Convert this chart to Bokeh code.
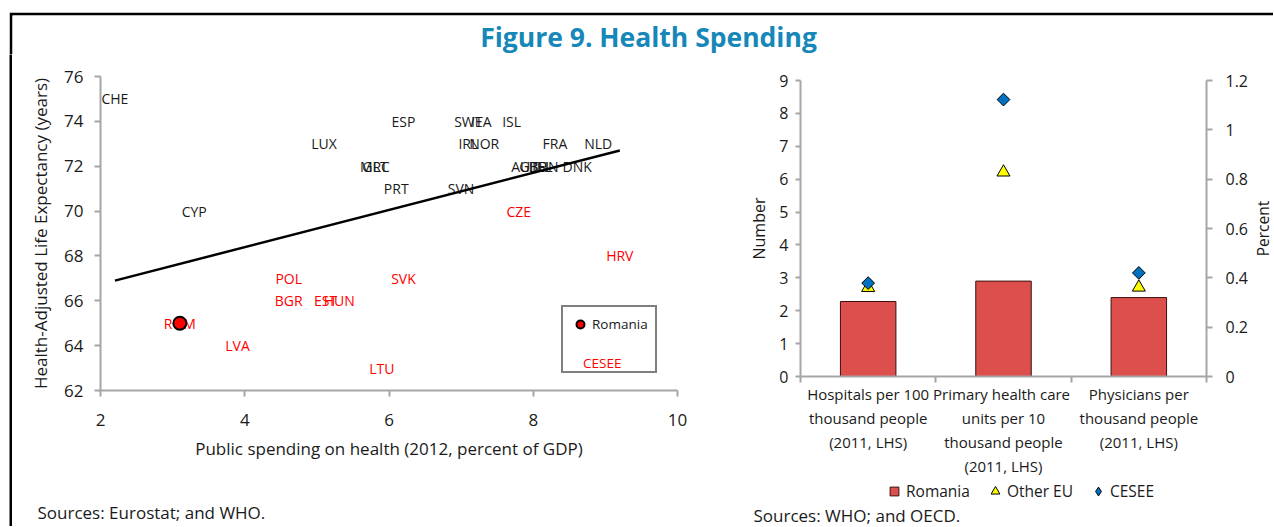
import math
from bokeh.plotting import figure
from bokeh.models import (Range1d, LinearAxis, FixedTicker, CustomJSTickFormatter,
                          ColumnDataSource, Legend, LegendItem, Label, Spacer)
from bokeh.layouts import column, row
from bokeh.core.properties import value
from bokeh.embed import file_html
from bokeh.resources import INLINE

FONT = "Open Sans"
AXIS_GRAY = "#A6A6A6"
TXT = "#1a1a1a"

# ---------------- Left chart data ----------------
other_codes = ["CHE", "ESP", "SWE", "ITA", "ISL", "LUX", "IRL", "NOR", "FRA", "NLD",
               "MLT", "GRC", "AUT", "GBR", "BEL", "FIN", "DNK", "PRT", "SVN", "CYP"]
other_spend = [2.2, 6.2, 7.1, 7.28, 7.7, 5.1, 7.1, 7.32, 8.3, 8.9,
               5.79, 5.82, 7.88, 8.0, 8.1, 8.2, 8.61, 6.1, 7.0, 3.3]
other_hale = [75, 74, 74, 74, 74, 73, 73, 73, 73, 73,
              72, 72, 72, 72, 72, 72, 72, 71, 71, 70]

cesee_codes = ["CZE", "HRV", "POL", "SVK", "BGR", "EST", "HUN", "ROM", "LVA", "LTU"]
cesee_spend = [7.8, 9.2, 4.61, 6.2, 4.61, 5.12, 5.31, 3.1, 3.9, 5.9]
cesee_hale = [70, 68, 67, 67, 66, 66, 66, 65, 64, 63]

romania_spend = [3.1]
romania_hale = [65]

trend_spend = [2.2, 9.2]
trend_hale = [66.9, 72.7]

x_ticks_left = [2, 4, 6, 8, 10]
y_ticks_left = [62, 64, 66, 68, 70, 72, 74, 76]

# ---------------- Right chart data ----------------
indicators = ["Hospitals per 100\nthousand people\n(2011, LHS)",
              "Primary health  care\nunits per 10\nthousand people\n(2011, LHS)",
              "Physicians per\nthousand people\n(2011, LHS)"]
romania_vals = [2.28, 2.9, 2.4]
other_eu_vals = [2.7, 6.21, 2.71]
cesee_vals = [2.84, 8.42, 3.15]
left_ticks_right = [0, 1, 2, 3, 4, 5, 6, 7, 8, 9]
pct_ticks = [0, 0.2, 0.4, 0.6, 0.8, 1.0, 1.2]

BAR = "#DD4F4D"
BAR_LINE = "#3a1010"
YEL = "#FFFF00"
BLUE = "#0070C0"

TOP_PAD = 12
TITLE_H = 42
CH_H = 448          # height of the charts row
SRC_H = 24          # sources strip
LEG_H = 22          # legend strip under right chart
W1, W2, WP = 700, 539, 22
W = W1 + W2 + WP


def style_axis(ax, tick_font="16px", label_font="16px"):
    ax.axis_line_color = AXIS_GRAY
    ax.axis_line_width = 2
    ax.major_tick_line_color = AXIS_GRAY
    ax.major_tick_line_width = 2
    ax.minor_tick_line_color = None
    ax.major_tick_in = 0
    ax.major_label_text_font = FONT
    ax.major_label_text_font_size = tick_font
    ax.major_label_text_color = TXT
    ax.axis_label_text_font = FONT
    ax.axis_label_text_font_size = label_font
    ax.axis_label_text_font_style = "normal"
    ax.axis_label_text_color = TXT


def blank_fig(w, h, fill="white", border="white"):
    f = figure(width=w, height=h, output_backend="svg", toolbar_location=None,
               min_border_left=0, min_border_right=0, min_border_top=0, min_border_bottom=0,
               x_range=Range1d(0, 1), y_range=Range1d(0, 1))
    f.xaxis.visible = False
    f.yaxis.visible = False
    f.grid.visible = False
    f.outline_line_color = None
    f.background_fill_color = fill
    f.border_fill_color = border
    return f


def screen_label(fig, text, x, y, size="17px", color=TXT, style="normal", angle=0.0,
                 align="left"):
    fig.add_layout(Label(text=text, x=x, y=y, x_units="screen", y_units="screen",
                         text_font=FONT, text_font_size=size, text_color=color,
                         text_font_style=style, angle=angle, text_align=align,
                         text_baseline="middle"))


# ================= Left figure =================
p1 = figure(width=W1, height=CH_H, x_range=Range1d(2, 10), y_range=Range1d(62, 76),
            output_backend="svg", toolbar_location=None,
            min_border_left=88, min_border_right=35, min_border_top=22,
            min_border_bottom=CH_H - 22 - 314)
p1.outline_line_color = None
p1.grid.visible = False

xa = p1.xaxis[0]
style_axis(xa, "17px", "17px")
xa.ticker = FixedTicker(ticks=x_ticks_left)
xa.major_tick_out = 6
xa.major_label_standoff = 17
xa.axis_label = "Public spending on health (2012, percent of GDP)"
xa.axis_label_standoff = 8

ya = p1.yaxis[0]
style_axis(ya, "17px", "17px")
ya.ticker = FixedTicker(ticks=y_ticks_left)
ya.major_tick_out = 6
ya.major_label_standoff = 11
ya.axis_label = "Health-Adjusted Life Expectancy (years)"
ya.axis_label_standoff = 9

src_other = ColumnDataSource(dict(x=other_spend, y=other_hale, t=other_codes))
src_cesee = ColumnDataSource(dict(x=cesee_spend, y=cesee_hale, t=cesee_codes))
p1.text(x="x", y="y", text="t", source=src_other, text_align="center", text_baseline="middle",
        text_font=value(FONT), text_font_size="14px", text_color=TXT)
p1.text(x="x", y="y", text="t", source=src_cesee, text_align="center", text_baseline="middle",
        text_font=value(FONT), text_font_size="14px", text_color="#FF0000")
p1.line(trend_spend, trend_hale, line_color="black", line_width=2.5)
rom_r = p1.scatter(romania_spend, romania_hale, size=13, fill_color="#FF0000",
                   line_color="black", line_width=2)
blank_r = p1.scatter(x=[], y=[], fill_alpha=0, line_alpha=0)

legA = Legend(items=[LegendItem(label="Romania", renderers=[rom_r]),
                     LegendItem(label=" ", renderers=[blank_r])],
              location=(461, 17), padding=7, spacing=10, glyph_width=20, glyph_height=20,
              label_height=20, label_standoff=2, margin=0,
              border_line_color="black", border_line_width=2,
              label_text_font=FONT, label_text_font_size="13.5px", label_text_color=TXT)
legB = Legend(items=[LegendItem(label="CESEE", renderers=[blank_r])],
              location=(461, 17), padding=7, spacing=10, glyph_width=20, glyph_height=20,
              label_height=20, label_standoff=2, margin=0,
              border_line_color=None, background_fill_alpha=0,
              label_text_font=FONT, label_text_font_size="13.5px", label_text_color="#FF0000")
p1.add_layout(legA)
p1.add_layout(legB)

# ================= Right figure =================
positions = [i + 0.5 for i in range(len(indicators))]
boundaries = list(range(len(indicators) + 1))

P2_H = CH_H - LEG_H
p2 = figure(width=W2, height=P2_H, x_range=Range1d(0, len(indicators)), y_range=Range1d(0, 9),
            output_backend="svg", toolbar_location=None,
            min_border_left=88, min_border_right=41, min_border_top=26,
            min_border_bottom=P2_H - 26 - 296)
p2.outline_line_color = None
p2.grid.visible = False
p2.extra_y_ranges = {"pct": Range1d(0, 1.2)}

p2.vbar(x=positions, top=romania_vals, width=0.41, fill_color=BAR, line_color=BAR_LINE, line_width=1)
p2.scatter(positions, other_eu_vals, marker="triangle", size=13, fill_color=YEL,
           line_color="black", line_width=1)
p2.scatter(positions, cesee_vals, marker="square", angle=math.pi / 4, size=9, fill_color=BLUE,
           line_color="black", line_width=1)

xb = p2.xaxis[0]
style_axis(xb, "15px")
xb.ticker = FixedTicker(ticks=positions, minor_ticks=boundaries)
xb.formatter = CustomJSTickFormatter(args=dict(labels=indicators),
                                     code="return labels[Math.floor(tick)] || '';")
xb.major_tick_out = 0
xb.major_tick_line_color = None
xb.minor_tick_line_color = AXIS_GRAY
xb.minor_tick_line_width = 2
xb.minor_tick_out = 6
xb.minor_tick_in = 0
xb.major_label_standoff = 1

yb = p2.yaxis[0]
style_axis(yb, "16px", "16px")
yb.ticker = FixedTicker(ticks=left_ticks_right)
yb.major_tick_out = 5
yb.major_label_standoff = 7
yb.axis_label = "Number"
yb.axis_label_standoff = 6

yr = LinearAxis(y_range_name="pct", ticker=FixedTicker(ticks=pct_ticks),
                formatter=CustomJSTickFormatter(code="return String(Math.round(tick * 10) / 10);"))
style_axis(yr, "16px")
yr.major_tick_out = 6
yr.major_label_standoff = 13
p2.add_layout(yr, "right")

# legend strip under the right chart (its frame is aligned with the chart's frame)
lg = blank_fig(W2, LEG_H)
leg_rom = lg.scatter(positions, romania_vals, marker="square", fill_color=BAR, line_color=BAR_LINE)
leg_oth = lg.scatter(positions, other_eu_vals, marker="triangle", fill_color=YEL, line_color="black")
leg_ces = lg.scatter(positions, cesee_vals, marker="diamond", fill_color=BLUE, line_color="black")
legR = Legend(items=[LegendItem(label="Romania", renderers=[leg_rom]),
                     LegendItem(label="Other EU", renderers=[leg_oth]),
                     LegendItem(label="CESEE", renderers=[leg_ces])],
              orientation="horizontal", location=(83, 0), glyph_width=22, glyph_height=22,
              label_height=20, label_standoff=1, spacing=14, padding=0, margin=0,
              border_line_color=None, background_fill_alpha=0,
              label_text_font=FONT, label_text_font_size="15.5px", label_text_color=TXT)
lg.add_layout(legR)

# narrow strip carrying the right-hand axis title
pf = blank_fig(WP, CH_H)
screen_label(pf, "Percent", 11, CH_H - (228 - (TOP_PAD + TITLE_H)), size="15.5px",
             angle=math.pi / 2, align="center")

# sources strip
src_fig = blank_fig(W, SRC_H)
screen_label(src_fig, "Sources: Eurostat; and WHO.", 25, 14)
screen_label(src_fig, "Sources:  WHO; and OECD.", 741, 11)

# ================= Title with frame lines =================
tf = blank_fig(3 + W, TITLE_H, fill="white", border="black")
tf.min_border_top = 3
tf.min_border_left = 3
screen_label(tf, "Figure 9. Health Spending", 636, TOP_PAD + TITLE_H - 36, size="26.5px",
             color="#1587B8", style="bold", align="center")

left_line = blank_fig(3, CH_H + SRC_H, fill="black", border="black")

charts = row(column(p1, spacing=0), column(p2, lg, spacing=0), pf, spacing=0)
body = column(charts, src_fig, spacing=0)
page = column(Spacer(width=9 + 3 + W, height=TOP_PAD),
              row(Spacer(width=9, height=TITLE_H + CH_H + SRC_H),
                  column(tf, row(left_line, body, spacing=0), spacing=0),
                  spacing=0),
              spacing=0)

open("out.html", "w").write(file_html(page, INLINE))
